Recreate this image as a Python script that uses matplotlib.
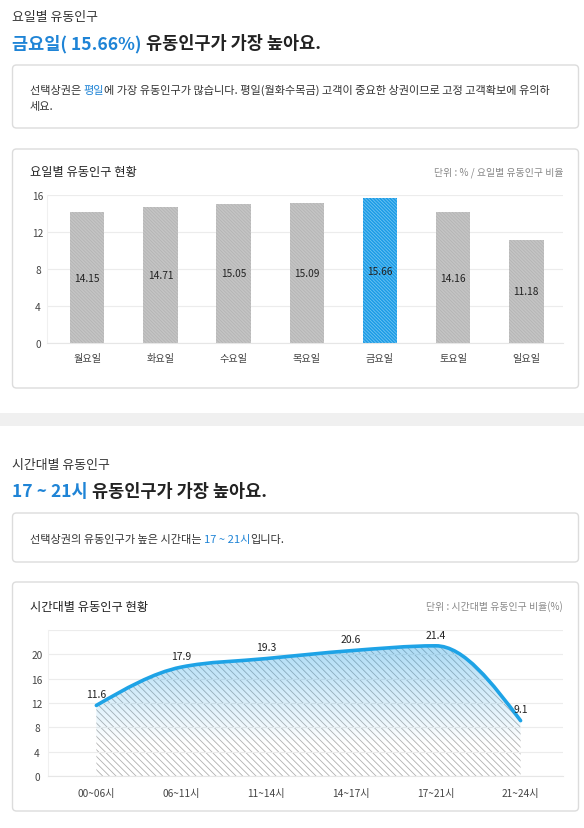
import numpy as np
import matplotlib
matplotlib.use("Agg")
import matplotlib.pyplot as plt
from matplotlib.patches import FancyBboxPatch, Rectangle, PathPatch
from matplotlib.path import Path

plt.rcParams['font.family'] = ['Noto Sans CJK KR', 'DejaVu Sans']
plt.rcParams['hatch.linewidth'] = 0.6

# 요일별 데이터
days = ['월요일', '화요일', '수요일', '목요일', '금요일', '토요일', '일요일']
day_values = [14.15, 14.71, 15.05, 15.09, 15.66, 14.16, 11.18]
day_ticks = [0, 4, 8, 12, 16]

# 시간대별 데이터
time_slots = ['00~06시', '06~11시', '11~14시', '14~17시', '17~21시', '21~24시']
time_values = [11.6, 17.9, 19.3, 20.6, 21.4, 9.1]
time_ticks = [0, 4, 8, 12, 16, 20]

BLUE = '#1f84d6'
DARK = '#222222'
W, H = 584, 829

fig = plt.figure(figsize=(W / 100, H / 100), dpi=100)
bg = fig.add_axes([0, 0, 1, 1])  # 픽셀 좌표용 배경 축
bg.set_xlim(0, W)
bg.set_ylim(H, 0)
bg.axis('off')


def card(y0, y1):
    bg.add_patch(FancyBboxPatch((12.5, y0), 566, y1 - y0,
                                boxstyle='round,pad=0,rounding_size=4',
                                fc='white', ec='#dcdcdc', lw=1))


def parts(x, y, pieces, size, weight='normal'):
    # 색이 다른 글자를 이어 붙임
    t = bg.text(x, y, pieces[0][0], color=pieces[0][1], fontsize=size,
                weight=weight, va='baseline')
    for s, c in pieces[1:]:
        t = bg.annotate(s, xy=(1, 0), xycoords=t, color=c, fontsize=size,
                        weight=weight, va='bottom', ha='left')
    return t


# ---------- 요일별 ----------
bg.text(12, 21, '요일별 유동인구', fontsize=9.3, color='#333333', va='baseline')
parts(12, 49, [('금요일( 15.66%)', BLUE), (' 유동인구가 가장 높아요.', DARK)], 12.6, 'bold')
card(66, 129)
parts(30, 94, [('선택상권은 ', '#333333'), ('평일', BLUE),
               ('에 가장 유동인구가 많습니다. 평일(월화수목금) 고객이 중요한 상권이므로 고정 고객확보에 유의하', '#333333')], 8.05)
bg.text(30, 110, '세요.', fontsize=8.05, color='#333333', va='baseline')

card(150, 389)
bg.text(30, 176, '요일별 유동인구 현황', fontsize=8.8, color=DARK, va='baseline')
bg.text(563, 175, '단위 : % / 요일별 유동인구 비율', fontsize=7.1, color='#888888',
        va='baseline', ha='right')

ax1 = fig.add_axes([47 / W, 1 - 344 / H, 516 / W, 148 / H])
x1 = np.arange(len(days))
best = int(np.argmax(day_values))
face = ['#1b9be6' if i == best else '#c4c4c4' for i in x1]
hatchc = ['#6fc4f2' if i == best else '#b4b4b4' for i in x1]
ax1.bar(x1, day_values, width=0.47, color=face, edgecolor=hatchc,
        hatch='\\' * 10, linewidth=0, zorder=2)
for i, v in enumerate(day_values):
    ax1.text(i, v / 2, f'{v:.2f}', ha='center', va='center', fontsize=7.3,
             color='#222222', zorder=3)
ax1.set_xlim(-0.55, 6.5)
ax1.set_ylim(0, 16)
ax1.set_yticks(day_ticks)
ax1.set_xticks(x1)
ax1.set_xticklabels(days)
ax1.grid(axis='y', color='#ececec', lw=0.8, zorder=0)
for sp in ['top', 'right']:
    ax1.spines[sp].set_visible(False)
ax1.spines['left'].set_color('#f0f0f0')
ax1.spines['bottom'].set_color('#e6e6e6')
ax1.tick_params(length=0, labelsize=7.3, colors='#444444')
ax1.tick_params(axis='x', pad=7)
ax1.tick_params(axis='y', pad=6.5)
for lab in ax1.get_yticklabels():
    lab.set_horizontalalignment('center')

# 구분 띠
bg.add_patch(Rectangle((0, 414), W, 13, fc='#f0f0f0', ec='none'))

# ---------- 시간대별 ----------
bg.text(12, 469, '시간대별 유동인구', fontsize=9.3, color='#333333', va='baseline')
parts(12, 497, [('17 ~ 21시', BLUE), (' 유동인구가 가장 높아요.', DARK)], 12.6, 'bold')
card(514, 563)
parts(30, 543, [('선택상권의 유동인구가 높은 시간대는 ', '#333333'), ('17 ~ 21시', BLUE),
                ('입니다.', '#333333')], 8.05)

card(583, 812)
bg.text(30, 611, '시간대별 유동인구 현황', fontsize=8.8, color=DARK, va='baseline')
bg.text(563, 610, '단위 : 시간대별 유동인구 비율(%)', fontsize=7.1, color='#888888',
        va='baseline', ha='right')

ax2 = fig.add_axes([48 / W, 1 - 777 / H, 515 / W, 146 / H])
xs = np.arange(len(time_values), dtype=float)
ys = np.array(time_values, dtype=float)

# 단조 3차 곡선 접선
s = np.diff(ys)
m = np.zeros_like(ys)
for i in range(1, len(ys) - 1):
    if s[i - 1] * s[i] > 0:
        p = (s[i - 1] + s[i]) / 2
        m[i] = np.sign(s[i - 1]) * 2 * min(abs(s[i - 1]), abs(s[i]), 0.5 * abs(p))
m[0] = (3 * s[0] - m[1]) / 2
m[-1] = (3 * s[-1] - m[-2]) / 2

verts = [(xs[0], ys[0])]
codes = [Path.MOVETO]
for i in range(len(xs) - 1):
    verts += [(xs[i] + 1 / 3, ys[i] + m[i] / 3),
              (xs[i + 1] - 1 / 3, ys[i + 1] - m[i + 1] / 3),
              (xs[i + 1], ys[i + 1])]
    codes += [Path.CURVE4] * 3

fill_verts = verts + [(xs[-1], 0), (xs[0], 0), (xs[0], ys[0])]
fill_codes = codes + [Path.LINETO, Path.LINETO, Path.CLOSEPOLY]
fill_patch = PathPatch(Path(fill_verts, fill_codes), fc='white', ec='#b0b0b0',
                       hatch='\\' * 5, lw=0, zorder=1)
ax2.add_patch(fill_patch)

grad = np.zeros((256, 1, 4))
grad[..., 0] = 0.12
grad[..., 1] = 0.62
grad[..., 2] = 0.90
grad[:, 0, 3] = np.clip(np.linspace(0.38, -0.12, 256), 0, None)
im = ax2.imshow(grad, extent=[-0.57, 5.5, 0, 22], aspect='auto', origin='upper',
                zorder=2, interpolation='bilinear')
im.set_clip_path(fill_patch)

ax2.add_patch(PathPatch(Path(verts, codes), fill=False, ec='#1ea3e6', lw=2.6,
                        capstyle='round', joinstyle='round', zorder=4))

for i, v in enumerate(time_values):
    ax2.annotate(f'{v}', (i, v), xytext=(0, 4.5), textcoords='offset points',
                 ha='center', va='bottom', fontsize=7.5, color='#222222', zorder=5)

ax2.set_xlim(-0.57, 5.5)
ax2.set_ylim(0, 24)
ax2.set_yticks(time_ticks + [24])
ax2.set_yticklabels([str(t) for t in time_ticks] + [''])
ax2.set_xticks(xs)
ax2.set_xticklabels(time_slots)
ax2.grid(axis='y', color='#ececec', lw=0.8, zorder=0)
for sp in ['top', 'right']:
    ax2.spines[sp].set_visible(False)
ax2.spines['left'].set_color('#f0f0f0')
ax2.spines['bottom'].set_color('#e6e6e6')
ax2.tick_params(length=0, labelsize=7.3, colors='#444444')
ax2.tick_params(axis='x', pad=9)
ax2.tick_params(axis='y', pad=8)
for lab in ax2.get_yticklabels():
    lab.set_horizontalalignment('center')

fig.savefig('out.png', dpi=100)
